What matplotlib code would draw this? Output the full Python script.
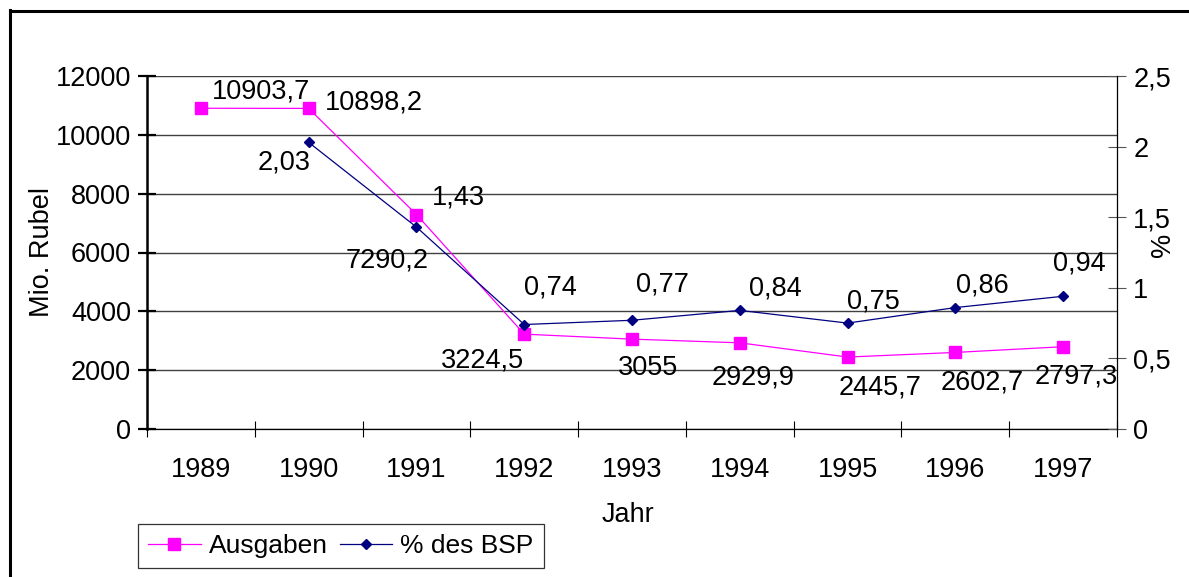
import numpy as np
import matplotlib
matplotlib.use("Agg")
import matplotlib.pyplot as plt
from matplotlib.lines import Line2D
from matplotlib.ticker import FixedLocator, FuncFormatter

plt.rcParams['font.family'] = ['Liberation Sans', 'DejaVu Sans']

# ---- data ----
years = ["1989", "1990", "1991", "1992", "1993", "1994", "1995", "1996", "1997"]
ausgaben = [10903.7, 10898.2, 7290.2, 3224.5, 3055, 2929.9, 2445.7, 2602.7, 2797.3]
ausgaben_labels = ["10903,7", "10898,2", "7290,2", "3224,5", "3055", "2929,9", "2445,7", "2602,7", "2797,3"]
bsp = [np.nan, 2.03, 1.43, 0.74, 0.77, 0.84, 0.75, 0.86, 0.94]
bsp_labels = ["", "2,03", "1,43", "0,74", "0,77", "0,84", "0,75", "0,86", "0,94"]
left_ticks = [0, 2000, 4000, 6000, 8000, 10000, 12000]
right_ticks = [0, 0.5, 1, 1.5, 2, 2.5]

# label offsets in pixels (dx, dy up)
aus_off = [(60, 17), (65, 6), (-29, -46), (-42, -26), (16, -29), (13, -35), (33, -30), (27, -30), (13, -30)]
bsp_off = [(0, 0), (-25, -20), (42, 30), (26, 37), (30, 36), (36, 22), (26, 22), (27, 22), (16, 33)]

PINK = '#FF00FF'
NAVY = '#000080'
FS = 19.5

W, H = 1189, 577
fig = plt.figure(figsize=(W / 100, H / 100), dpi=100)
fig.patch.set_facecolor('white')

# figure border (left and top only)
fig.add_artist(Line2D([9.5 / W, 9.5 / W], [0, 1 - 10 / H], transform=fig.transFigure, color='black', lw=2.2))
fig.add_artist(Line2D([9.5 / W, 1], [1 - 11 / H, 1 - 11 / H], transform=fig.transFigure, color='black', lw=2.2))

ax = fig.add_axes([147 / W, 1 - 429 / H, (1117 - 147) / W, (429 - 76) / H])
x = np.arange(len(years))

ax.set_xlim(-0.5, len(years) - 0.5)
ax.set_ylim(0, 12000)
ax.yaxis.set_major_locator(FixedLocator(left_ticks))
ax.yaxis.set_major_formatter(FuncFormatter(lambda v, p: f"{int(v)}"))
ax.grid(axis='y', color='#404040', lw=1.0)
ax.set_axisbelow(True)

ax.set_xticks(x)
ax.set_xticklabels(years)
ax.set_xticks(np.arange(-0.5, len(years), 1.0), minor=True)
ax.tick_params(axis='x', which='major', length=0, pad=20, labelsize=FS)
ax.tick_params(axis='x', which='minor', direction='inout', length=12, width=0.8, color='black')
ax.tick_params(axis='y', which='major', direction='inout', length=13, width=1.6, pad=5, labelsize=FS)

for s in ['top', 'right']:
    ax.spines[s].set_visible(False)
ax.spines['left'].set_linewidth(1.8)
ax.spines['bottom'].set_linewidth(0.9)

l1, = ax.plot(x, ausgaben, color=PINK, lw=0.9, marker='s', ms=8, mec=PINK, mfc=PINK, label='Ausgaben', clip_on=False)

ax2 = ax.twinx()
ax2.set_ylim(0, 2.5)
ax2.yaxis.set_major_locator(FixedLocator(right_ticks))
ax2.yaxis.set_major_formatter(FuncFormatter(lambda v, p: (f"{v:g}").replace('.', ',')))
ax2.tick_params(axis='y', which='major', direction='inout', length=13.5, width=0.8, pad=5, labelsize=FS, color='#555555')
for s in ['top', 'left', 'bottom']:
    ax2.spines[s].set_visible(False)
ax2.spines['right'].set_linewidth(0.9)

l2, = ax2.plot(x, bsp, color=NAVY, lw=0.9, marker='D', ms=5, mec=NAVY, mfc=NAVY, label='% des BSP', clip_on=False)

for xi, v, lab, (dx, dy) in zip(x, ausgaben, ausgaben_labels, aus_off):
    ax.annotate(lab, (xi, v), xytext=(dx, dy), textcoords='offset pixels',
                ha='center', va='center', fontsize=FS, color='black', annotation_clip=False)
for xi, v, lab, (dx, dy) in zip(x, bsp, bsp_labels, bsp_off):
    if lab:
        ax2.annotate(lab, (xi, v), xytext=(dx, dy), textcoords='offset pixels',
                     ha='center', va='center', fontsize=FS, color='black', annotation_clip=False)

fig.text(42 / W, 1 - 252 / H, 'Mio. Rubel', rotation=90, ha='center', va='center', fontsize=FS)
fig.text(628 / W, 1 - 515 / H, 'Jahr', ha='center', va='center', fontsize=FS)
fig.text(1163 / W, 1 - 245 / H, '%', rotation=90, ha='center', va='center', fontsize=FS)

leg = fig.legend([l1, l2], ['Ausgaben', '% des BSP'], loc='lower left',
                 bbox_to_anchor=(138 / W, 9 / H), bbox_transform=fig.transFigure,
                 ncol=2, fontsize=19, frameon=True, fancybox=False, borderaxespad=0,
                 handlelength=2.0, handletextpad=0.3, columnspacing=0.45,
                 borderpad=0.38, markerscale=1.0)
leg.get_frame().set_edgecolor('black')
leg.get_frame().set_linewidth(0.9)

fig.savefig('out.png', dpi=100, facecolor='white')
